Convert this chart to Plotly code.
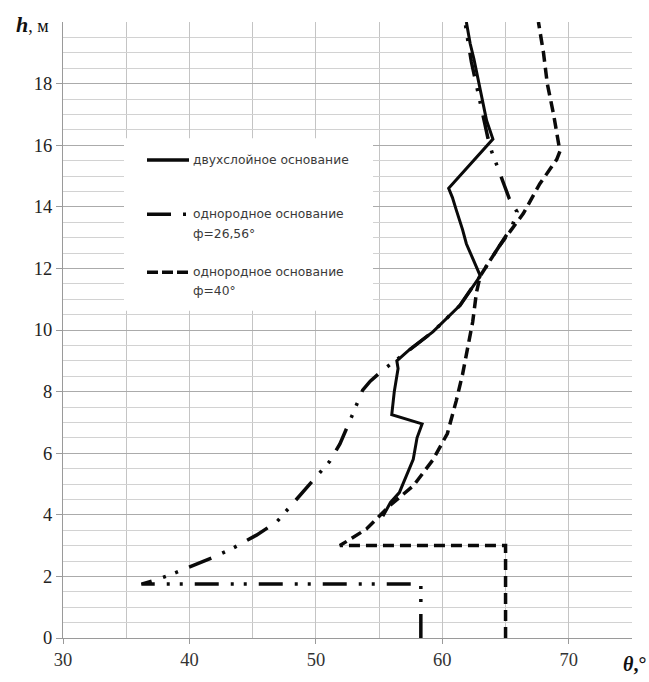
import plotly.graph_objects as go

# --- data: rotation angle theta (deg) against height h (m) ---
theta_two_layer = [55.3, 55.9, 56.6, 57.2, 57.7, 58.0, 58.4, 56.0, 56.2, 56.5, 56.4,
                   57.4, 59.25, 61.4, 63.0, 61.9, 61.6, 61.1, 60.8, 60.5,
                   64.0, 63.5, 63.0, 62.5, 62.2, 61.9]
h_two_layer = [3.95, 4.4, 4.72, 5.3, 5.8, 6.5, 6.95, 7.25, 8.0, 8.75, 9.0,
               9.36, 9.94, 10.8, 11.76, 12.8, 13.26, 13.9, 14.3, 14.6,
               16.2, 16.8, 17.85, 18.8, 19.3, 20.0]

theta_phi26 = [58.3, 58.3, 36.2, 37.4, 38.6, 39.6, 40.7, 42.0, 43.5, 45.3, 46.9,
               47.7, 49.0, 50.3, 51.1, 51.9, 52.7, 53.3, 53.7, 54.3, 55.3, 56.4,
               57.4, 59.25, 61.4, 63.0, 64.5, 65.5, 65.9, 65.3, 64.9, 64.3, 63.9,
               63.6, 63.2, 62.7, 62.3, 62.0, 61.8]
h_phi26 = [0.0, 1.75, 1.75, 1.89, 2.07, 2.24, 2.42, 2.64, 2.93, 3.34, 3.77,
           4.14, 4.72, 5.36, 5.74, 6.3, 7.06, 7.62, 8.05, 8.34, 8.7, 9.04,
           9.36, 9.94, 10.8, 11.76, 12.72, 13.35, 13.84, 14.26, 14.7, 15.38, 15.8,
           16.24, 16.98, 17.84, 18.7, 19.44, 20.0]

theta_phi40 = [65.0, 65.0, 51.9, 54.0, 55.85, 57.7, 59.25, 60.4, 61.1, 61.6, 61.9,
               62.4, 62.7, 63.0, 64.5, 66.4, 67.7, 69.05, 69.3, 68.8, 68.3, 68.0, 67.6]
h_phi40 = [0.0, 3.0, 3.0, 3.54, 4.3, 4.94, 5.78, 6.64, 7.7, 8.56, 9.2,
           10.26, 11.22, 11.76, 12.72, 13.78, 14.74, 15.54, 15.8, 17.0, 18.0, 19.0, 20.0]

legend_names = ["двухслойное основание",
                ["однородное основание", "ф=26,56°"],
                ["однородное основание", "ф=40°"]]

x_ticks = [30, 40, 50, 60, 70]
y_ticks = [0, 2, 4, 6, 8, 10, 12, 14, 16, 18]

DASH_26 = "24px,12px,3px,10px,3px,12px"
DASH_40 = "11px,6px"

# figure geometry (pixels)
W, H = 649, 682
ML, MR, MT, MB = 63, 17, 22, 35
PW, PH = W - ML - MR, H - MT - MB


def px(xp):
    return (xp - ML) / PW


def py(yp):
    return (MT + PH - yp) / PH


fig = go.Figure()
fig.add_trace(go.Scatter(x=theta_two_layer, y=h_two_layer, mode="lines",
                         line=dict(color="#0a0a0a", width=3), showlegend=False))
fig.add_trace(go.Scatter(x=theta_phi26, y=h_phi26, mode="lines",
                         line=dict(color="#0a0a0a", width=3.5, dash=DASH_26), showlegend=False))
fig.add_trace(go.Scatter(x=theta_phi40, y=h_phi40, mode="lines",
                         line=dict(color="#0a0a0a", width=3.5, dash=DASH_40), showlegend=False))

serif = "Liberation Serif"
fig.update_layout(
    width=W, height=H, margin=dict(l=ML, r=MR, t=MT, b=MB),
    paper_bgcolor="white", plot_bgcolor="white",
    xaxis=dict(range=[30, 75], tickvals=x_ticks, showgrid=True, gridcolor="#c4c4c4",
               gridwidth=1, minor=dict(dtick=5, tick0=30, showgrid=True, gridcolor="#c4c4c4"),
               showline=True, linecolor="#9a9a9a", linewidth=1, zeroline=False,
               ticks="outside", ticklen=5, tickcolor="#9a9a9a",
               tickfont=dict(family=serif, size=18.5, color="#333")),
    yaxis=dict(range=[0, 20], tickvals=y_ticks, showgrid=True, gridcolor="#ababab",
               gridwidth=1, minor=dict(dtick=0.5, tick0=0, showgrid=True, gridcolor="#d2d2d2"),
               showline=True, linecolor="#9a9a9a", linewidth=1, zeroline=False,
               ticks="outside", ticklen=6, tickcolor="#9a9a9a",
               tickfont=dict(family=serif, size=18.5, color="#222")),
)

# axis titles
fig.add_annotation(xref="paper", yref="paper", x=0, y=1, xanchor="right", yanchor="middle",
                   xshift=-12, yshift=-2, showarrow=False,
                   text="<b><i><span style='font-size:22px'>h</span></i></b>, м",
                   font=dict(family=serif, size=18, color="#111"))
fig.add_annotation(xref="paper", yref="paper", x=1, y=0, xanchor="right", yanchor="top",
                   xshift=16, yshift=-13, showarrow=False,
                   text="<b><i>θ</i>,°</b>",
                   font=dict(family=serif, size=20, color="#111"))

# legend panel
fig.add_shape(type="rect", xref="paper", yref="paper", x0=px(124), x1=px(373),
              y0=py(315), y1=py(140), fillcolor="white", line=dict(width=0), layer="above")

samples = [(162, "solid", 3.5), (217, DASH_26, 3.5), (276, "11px,4px", 3.5)]
for (yy, dash, w) in samples:
    fig.add_shape(type="line", xref="paper", yref="paper", x0=px(147), x1=px(189),
                  y0=py(yy), y1=py(yy), line=dict(color="#0a0a0a", width=w, dash=dash),
                  layer="above")

leg_font = dict(family="DejaVu Sans", size=12.3, color="#3a3a3a")
text_rows = [(162, legend_names[0]), (217, legend_names[1][0]), (237, legend_names[1][1]),
             (276, legend_names[2][0]), (295, legend_names[2][1])]
for yy, t in text_rows:
    fig.add_annotation(xref="paper", yref="paper", x=px(191), y=py(yy), xanchor="left",
                       yanchor="middle", showarrow=False, text=t, font=leg_font)

fig.write_html("out.html")
